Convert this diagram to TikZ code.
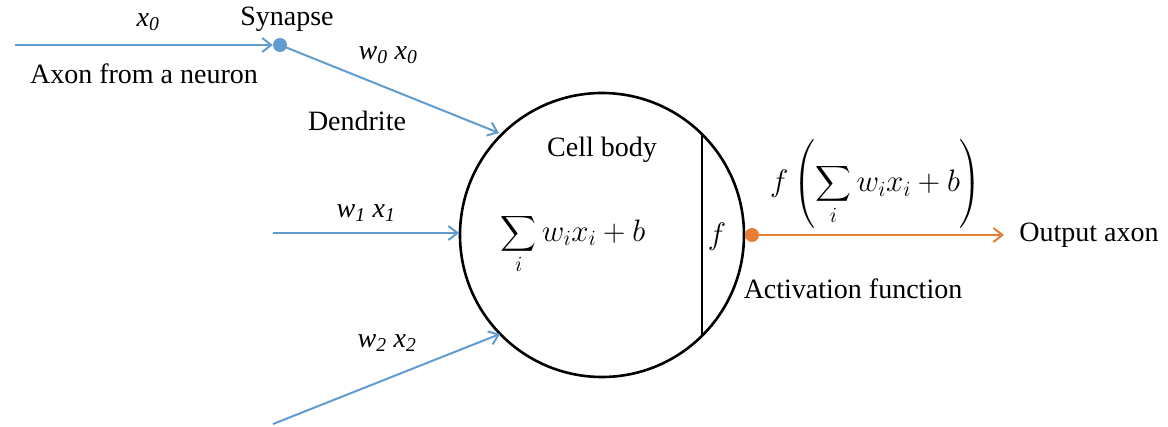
\RequirePackage{fix-cm}
\documentclass[tikz,border=0pt]{standalone}
\usepackage{exscale}
\usepackage{fontspec}
\setmainfont{Liberation Serif}
\usetikzlibrary{arrows.meta}
\definecolor{axblue}{RGB}{96,156,207}
\definecolor{axorange}{RGB}{232,125,52}
\tikzset{
  lbl/.style={inner sep=0pt, font=\fontsize{28}{33}\selectfont},
  mlbl/.style={inner sep=0pt, font=\fontsize{31}{37}\selectfont},
  inwire/.style={draw=axblue, line width=2pt, -{Straight Barb[length=9pt,width=14pt,line width=2pt]}},
  outwire/.style={draw=axorange, line width=2pt, -{Straight Barb[length=9pt,width=14pt,line width=2pt]}},
  dot/.style={circle, fill=#1, minimum size=14pt, inner sep=0pt},
}
\begin{document}
\begin{tikzpicture}[x=1pt,y=-1pt]
\useasboundingbox (0,0) rectangle (1168,427);
% cell body
\node[circle, draw=black, line width=2.6pt, minimum size=284pt, inner sep=0pt] (cell) at (602,235) {};
\coordinate (vtop) at (702,134.5);
\coordinate (vbot) at (702,335.5);
\draw[line width=1.2pt] (vtop) -- (vbot);
% input 0
\coordinate (a0) at (15,45);
\node[dot=axblue] (syn) at (280,45) {};
\draw[inwire] (a0) -- (syn.west);
\coordinate (d0) at (499,133);
\draw[inwire] (syn.center) -- (d0);
% input 1
\coordinate (a1) at (273,233);
\coordinate (d1) at (459,233);
\draw[inwire] (a1) -- (d1);
% input 2
\coordinate (a2) at (273,424);
\coordinate (d2) at (500,334);
\draw[inwire] (a2) -- (d2);
% output
\node[dot=axorange] (odot) at (752,235) {};
\coordinate (oend) at (1004,235);
\draw[outwire] (odot.center) -- (oend);
% labels
\node[lbl] (lx0) at (148,22) {\textit{x\textsubscript{0}}};
\node[lbl] (lsyn) at (287,19) {Synapse};
\node[lbl] (laxon) at (144,74) {Axon from a neuron};
\node[lbl] (lw0) at (388,55) {\textit{w\textsubscript{0} x\textsubscript{0}}};
\node[lbl] (ldend) at (357,121) {Dendrite};
\node[lbl] (lw1) at (366,213) {\textit{w\textsubscript{1} x\textsubscript{1}}};
\node[lbl] (lw2) at (387,343) {\textit{w\textsubscript{2} x\textsubscript{2}}};
\node[lbl] (lcell) at (602,150) {Cell body};
\node[mlbl] (lsum) at (573,244) {$\displaystyle\sum_i w_i x_i + b$};
\node[mlbl] (lf) at (717,237) {$f$};
\node[mlbl] (lfsum) at (876,184) {$\displaystyle f\left(\sum_i w_i x_i + b\right)$};
\node[lbl] (lact) at (853,289) {Activation function};
\node[lbl] (lout) at (1089,235) {Output axon};
\end{tikzpicture}
\end{document}
